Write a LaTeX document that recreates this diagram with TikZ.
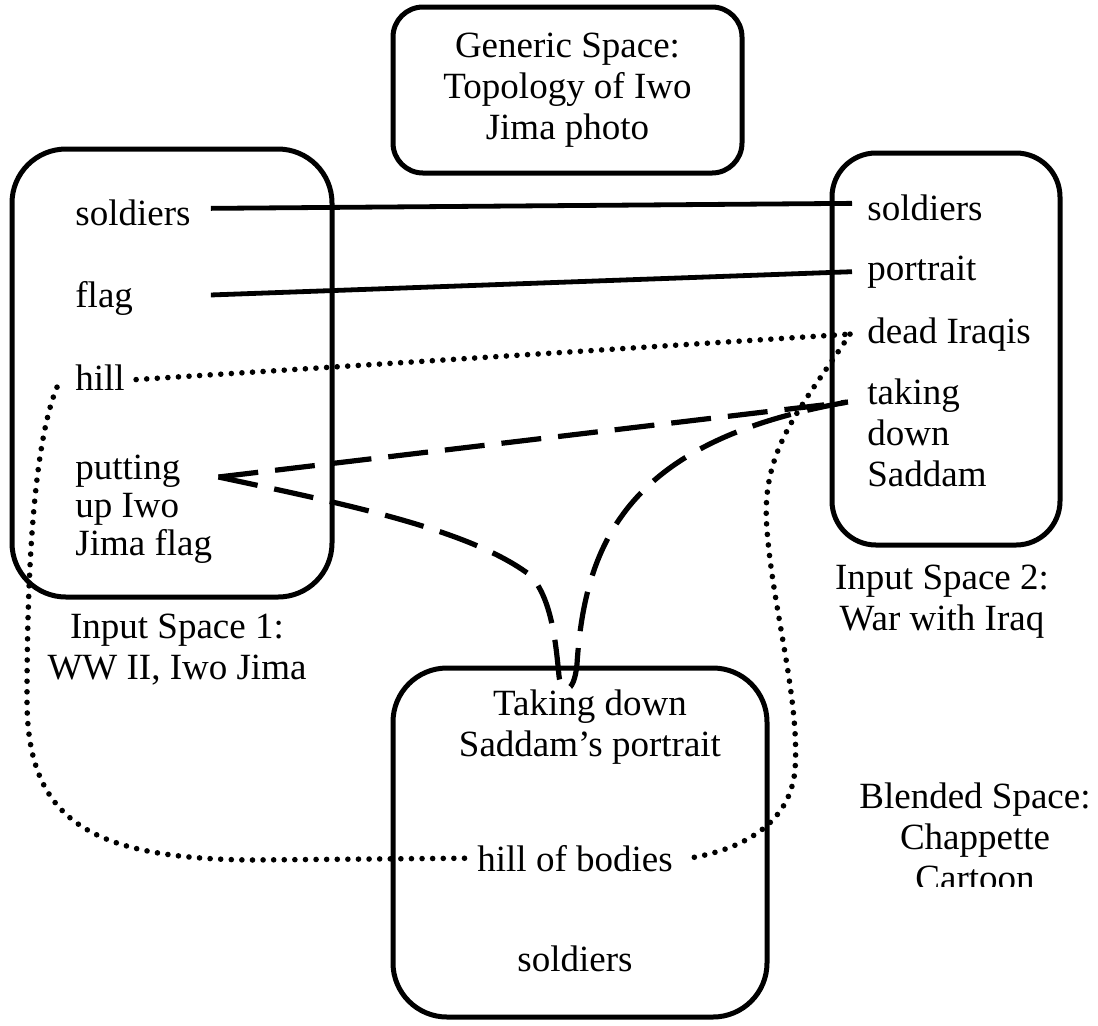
\documentclass[tikz,border=0pt]{standalone}
\usepackage{fontspec}
\setmainfont{Liberation Serif}
\usetikzlibrary{calc}
\tikzset{spacebox/.style={draw,line width=2.5pt,rounded corners=27pt,inner sep=0pt,align=center},
  elem/.style={inner sep=0pt,anchor=base west},
  lbl/.style={inner sep=0pt,align=center,anchor=north},
  solidlink/.style={line width=2.4pt},
  dotlink/.style={line width=2.8pt,line cap=round,dash pattern=on 0pt off 5.3pt},
  dashlink/.style={line width=2.6pt,dash pattern=on 20pt off 8.5pt}}

\begin{document}
\begin{tikzpicture}[x=0.5pt,y=-0.5pt,font=\fontsize{18.5}{20.5}\selectfont]
\useasboundingbox (0,0) rectangle (1098,1025);
% the four spaces
\node[spacebox,rounded corners=15pt,minimum width=174.5pt,minimum height=83pt] (generic) at (567.5,90) {Generic Space:\\Topology of Iwo\\Jima photo};
\node[spacebox,minimum width=160pt,minimum height=224pt] (input1) at (172,373) {};
\node[spacebox,rounded corners=22pt,minimum width=114pt,minimum height=196pt] (input2) at (946,349) {};
\node[spacebox,minimum width=187pt,minimum height=174.5pt] (blend) at (580,842.5) {};
% input space 1
\node[elem] (lsold) at (75,225) {soldiers};
\node[elem] (lflag) at (75,307) {flag};
\node[elem] (lhill) at (75,390) {hill};
\node[elem,anchor=north west,align=left,font=\fontsize{18.5}{19}\selectfont] (lput) at (75,455) {putting\\up Iwo\\Jima flag};
% input space 2
\node[elem] (rsold) at (867,220) {soldiers};
\node[elem] (rport) at (867,280) {portrait};
\node[elem] (rdead) at (867,343) {dead Iraqis};
\node[elem,anchor=north west,align=left] (rtake) at (867,378) {taking\\down\\Saddam};
% blend
\node[lbl] (btake) at (590,689) {Taking down\\Saddam’s portrait};
\node[elem] (bhill) at (477,871) {hill of bodies};
\node[elem,anchor=base] (bsold) at (575,971) {soldiers};
% captions
\node[lbl] (lab1) at (177,614) {Input Space 1:\\WW II, Iwo Jima};
\node[lbl] (lab2) at (942,565) {Input Space 2:\\War with Iraq};
\begin{scope}
\clip (840,770) rectangle (1098,886);
\node[lbl] (lab3) at (975,782) {Blended Space:\\Chappette\\Cartoon};
\end{scope}
% mappings
\draw[solidlink] ([xshift=10pt,yshift=2pt]lsold.east) -- ([xshift=-7.5pt,yshift=2pt]rsold.west);
\draw[solidlink] ($(lsold.east |- lflag.east)+(10pt,1.5pt)$) -- ([xshift=-7.5pt]rport.west);
\draw[dotlink] ([xshift=5.5pt,yshift=-1.2pt]lhill.east) -- ([xshift=-8.5pt]rdead.west);
\draw[dotlink] ([xshift=-9pt,yshift=-5pt]lhill.west) .. controls (35,440) and (27,560) .. (27,700)
  .. controls (27,820) and (90,858) .. (250,860) -- ([xshift=-2.5pt]bhill.west);
\draw[dotlink] ([xshift=-8.5pt]rdead.west) .. controls (800,410) and (760,450) .. (767,530)
  .. controls (773,610) and (800,700) .. (795,770) .. controls (790,825) and (740,850) .. ([xshift=8pt]bhill.east);
\draw[dashlink] ($(lput.north east)+(3pt,-11pt)$) .. controls (350,505) and (470,530) .. (530,575)
  .. controls (552,598) and (556,645) .. (559,676) .. controls (561,694) and (574,696) .. (577,664)
  .. controls (585,540) and (630,440) .. ($(rtake.north west)+(-9.5pt,-12pt)$);
\draw[dashlink] ($(lput.north east)+(3pt,-11pt)$) -- ($(rtake.north west)+(-9.5pt,-12pt)$);
\end{tikzpicture}
\end{document}
